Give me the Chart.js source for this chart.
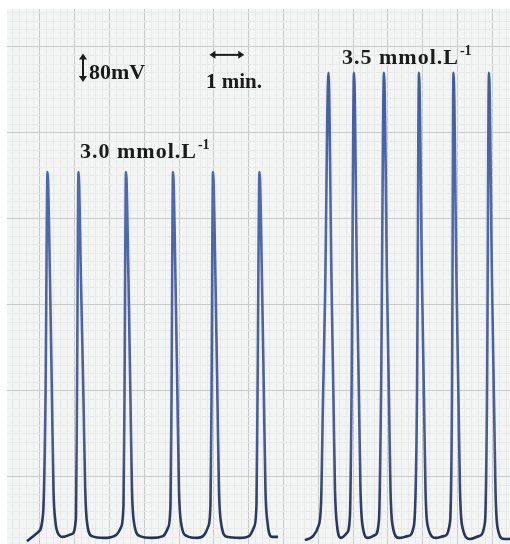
<!DOCTYPE html>
<html>
<head>
<meta charset="utf-8">
<script src="https://cdn.jsdelivr.net/npm/chart.js@4.4.1/dist/chart.umd.min.js"></script>
<style>
  html, body { margin: 0; padding: 0; background: #ffffff; }
  #trace { display: block; }
</style>
</head>
<body>
<canvas id="trace" width="510" height="544"></canvas>
<script>
// recorder trace, time in minutes, potential in mV (80 mV bar)
const timeLow = [
  -0.374, -0.057, 0.086, 0.158, 0.216, 0.288, 0.345, 0.388, 0.445, 0.503, 0.661,
  0.920, 1.034, 1.063, 1.106, 1.178, 1.250, 1.300, 1.350, 1.494, 1.839,
  2.184, 2.328, 2.399, 2.428, 2.471, 2.543, 2.600, 2.643, 2.700, 2.874, 3.218,
  3.534, 3.678, 3.750, 3.779, 3.822, 3.894, 3.951, 3.994, 4.051, 4.224, 4.511,
  4.713, 4.828, 4.899, 4.928, 4.971, 5.043, 5.100, 5.143, 5.200, 5.374, 5.747,
  6.006, 6.149, 6.221, 6.250, 6.307, 6.379, 6.436, 6.479, 6.536, 6.667, 6.839
];
const mvLow = [
  -179, -154, -106, 215, 851, 550, 215, -36, -126, -154, -167,
  -159, -114, 215, 851, 550, 215, -36, -126, -165, -170,
  -162, -140, -78, 215, 851, 550, 215, -36, -126, -165, -170,
  -165, -142, -78, 215, 851, 550, 215, -36, -126, -165, -170,
  -162, -140, -78, 215, 851, 550, 215, -36, -126, -167, -170,
  -165, -140, -78, 215, 851, 550, 215, -36, -126, -167, -167
];
const timeHigh = [
  7.615, 7.845, 7.989, 8.075, 8.132, 8.190, 8.290, 8.376, 8.434, 8.477, 8.534, 8.649,
  8.822, 8.908, 8.951, 9.023, 9.109, 9.167, 9.210, 9.267, 9.425,
  9.626, 9.741, 9.799, 9.885, 9.971, 10.029, 10.072, 10.129, 10.316,
  10.575, 10.747, 10.833, 10.891, 10.977, 11.035, 11.078, 11.135, 11.379,
  11.609, 11.782, 11.839, 11.882, 11.968, 12.026, 12.069, 12.126, 12.356,
  12.615, 12.787, 12.845, 12.902, 12.988, 13.046, 13.089, 13.146, 13.333, 13.506
];
const mvHigh = [
  -176, -165, -140, -78, 215, 494, 1128, 550, 215, -36, -134, -170,
  -156, -106, 215, 1128, 550, 215, -36, -134, -170,
  -162, -120, 215, 1128, 550, 215, -36, -134, -170,
  -165, -134, 215, 1128, 550, 215, -36, -134, -170,
  -165, -126, 215, 1128, 550, 215, -36, -134, -173,
  -165, -126, 215, 1128, 550, 215, -36, -140, -173, -173
];
const concLabels = ["3.0 mmol.L", "3.5 mmol.L"];
const concPos = [[1.149, 890], [8.678, 1153]];

const xRange = [-0.948, 13.506];
const yRange = [-187, 1306];

function pairs(xs, ys) {
  return xs.map((x, i) => ({ x: x, y: ys[i] }));
}

function steps(lo, hi, step) {
  const out = [];
  for (let k = Math.ceil(lo / step); k * step <= hi; k++) out.push(+(k * step).toFixed(4));
  return out;
}

function inkColor(context) {
  const { ctx, chartArea } = context.chart;
  if (!chartArea) return "#4a62a6";
  const g = ctx.createLinearGradient(0, chartArea.top, 0, chartArea.bottom);
  g.addColorStop(0, "#3c5497");
  g.addColorStop(0.35, "#5069ae");
  g.addColorStop(0.8, "#4a5d96");
  g.addColorStop(1, "#262f52");
  return g;
}

const paper = {
  id: "paper",
  beforeDraw(chart) {
    const { ctx, chartArea } = chart;
    ctx.save();
    ctx.fillStyle = "#ffffff";
    ctx.fillRect(0, 0, chart.width, chart.height);
    ctx.fillStyle = "#f3f5f4";
    ctx.fillRect(chartArea.left, chartArea.top, chartArea.right - chartArea.left, chartArea.bottom - chartArea.top);
    ctx.restore();
  }
};

function arrowHead(ctx, x, y, dx, dy) {
  const s = 6;
  ctx.beginPath();
  ctx.moveTo(x, y);
  ctx.lineTo(x - dx * s - dy * 4, y - dy * s - dx * 4);
  ctx.lineTo(x - dx * s + dy * 4, y - dy * s + dx * 4);
  ctx.closePath();
  ctx.fill();
}

const notes = {
  id: "notes",
  afterDatasetsDraw(chart) {
    const { ctx, scales } = chart;
    const X = (v) => scales.x.getPixelForValue(v);
    const Y = (v) => scales.y.getPixelForValue(v);
    ctx.save();
    ctx.fillStyle = "#1b1b1b";
    ctx.strokeStyle = "#1b1b1b";
    ctx.lineWidth = 2;

    // 80 mV bar
    const ax = X(1.236), a0 = Y(1102), a1 = Y(1182);
    ctx.beginPath();
    ctx.moveTo(ax, a0 - 4);
    ctx.lineTo(ax, a1 + 4);
    ctx.stroke();
    arrowHead(ctx, ax, a1, 0, -1);
    arrowHead(ctx, ax, a0, 0, 1);

    // 1 min bar
    const bx0 = X(4.87), bx1 = X(5.87), by = Y(1178);
    ctx.beginPath();
    ctx.moveTo(bx0 + 4, by);
    ctx.lineTo(bx1 - 4, by);
    ctx.stroke();
    arrowHead(ctx, bx0, by, -1, 0);
    arrowHead(ctx, bx1, by, 1, 0);

    ctx.textBaseline = "alphabetic";
    ctx.textAlign = "left";
    ctx.font = "bold 22px 'Liberation Serif', 'Times New Roman', serif";
    ctx.fillText("80mV", X(1.408), Y(1111));
    ctx.font = "bold 21px 'Liberation Serif', 'Times New Roman', serif";
    ctx.fillText("1 min.", X(4.77), Y(1086));

    concLabels.forEach((txt, i) => {
      const px = X(concPos[i][0]), py = Y(concPos[i][1]);
      ctx.font = "bold 22px 'Liberation Serif', 'Times New Roman', serif";
      ctx.letterSpacing = "1px";
      ctx.fillText(txt, px, py);
      const w = ctx.measureText(txt).width;
      ctx.letterSpacing = "0px";
      ctx.font = "bold 14px 'Liberation Serif', 'Times New Roman', serif";
      ctx.fillText("-1", px + w + 1, py - 9);
    });
    ctx.restore();
  }
};

function gridAxis(range, minor, major) {
  return {
    type: "linear",
    min: range[0],
    max: range[1],
    afterBuildTicks: (axis) => {
      axis.ticks = steps(range[0], range[1], minor).map((v) => ({ value: v }));
    },
    ticks: { display: false },
    border: { display: false },
    grid: {
      drawTicks: false,
      lineWidth: 1,
      color: (c) => {
        const v = c.tick ? c.tick.value : 0;
        const r = v / major;
        return Math.abs(r - Math.round(r)) < 1e-6 ? "#c6cbca" : "#e7eae9";
      }
    }
  };
}

new Chart(document.getElementById("trace"), {
  type: "line",
  data: {
    datasets: [
      {
        label: concLabels[0],
        data: pairs(timeLow, mvLow),
        borderColor: inkColor,
        borderWidth: 2.6,
        pointRadius: 0,
        cubicInterpolationMode: "monotone",
        fill: false
      },
      {
        label: concLabels[1],
        data: pairs(timeHigh, mvHigh),
        borderColor: inkColor,
        borderWidth: 2.6,
        pointRadius: 0,
        cubicInterpolationMode: "monotone",
        fill: false
      }
    ]
  },
  options: {
    responsive: false,
    animation: false,
    devicePixelRatio: 1,
    layout: { padding: { left: 7, top: 9, right: 0, bottom: 0 } },
    plugins: { legend: { display: false }, tooltip: { enabled: false } },
    scales: {
      x: gridAxis(xRange, 0.2, 1),
      y: gridAxis(yRange, 24, 240)
    }
  },
  plugins: [paper, notes]
});
</script>
</body>
</html>
